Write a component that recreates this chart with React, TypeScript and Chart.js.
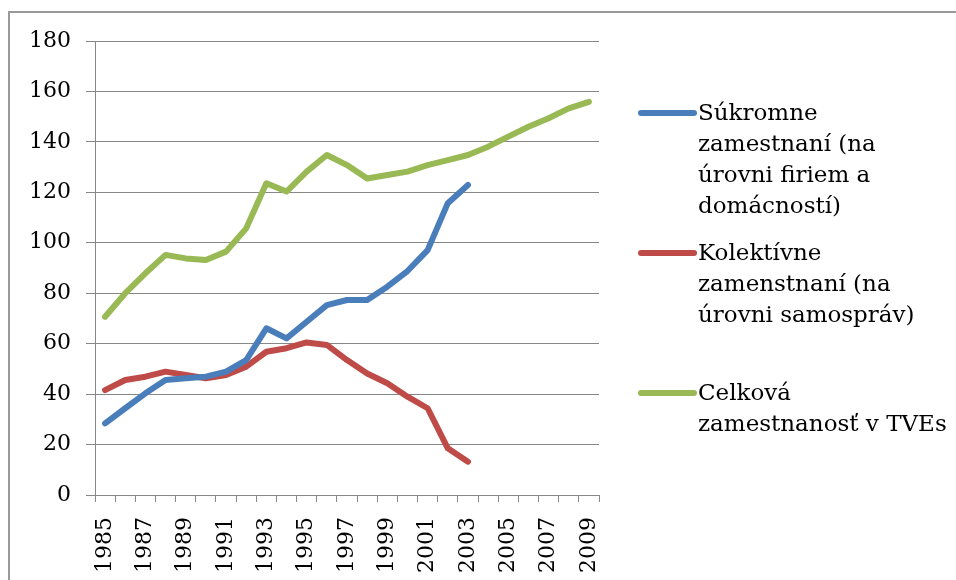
import React, { useEffect, useRef } from 'react';
import { Chart, registerables } from 'chart.js';

Chart.register(...registerables);

const years = ['1985','1986','1987','1988','1989','1990','1991','1992','1993','1994','1995','1996','1997','1998','1999','2000','2001','2002','2003','2004','2005','2006','2007','2008','2009'];

const sukromne = [28.4, 34.4, 40.3, 45.6, 46.3, 46.9, 48.9, 53.5, 66.1, 62.1, 68.7, 75.3, 77.3, 77.3, 82.6, 88.8, 97.1, 115.7, 122.9, null, null, null, null, null, null];
const kolektivne = [41.6, 45.6, 46.9, 48.9, 47.6, 46.3, 47.6, 50.9, 56.8, 58.2, 60.5, 59.5, 53.5, 48.2, 44.3, 39.0, 34.4, 18.5, 13.2, null, null, null, null, null, null];
const celkova = [70.7, 80.0, 87.9, 95.2, 93.8, 93.2, 96.5, 105.7, 123.6, 120.3, 128.2, 134.8, 130.8, 125.5, 126.9, 128.2, 130.8, 132.8, 134.8, 138.1, 142.1, 146.0, 149.4, 153.3, 155.9];

const seriesLabels = [
  ['Súkromne', 'zamestnaní (na', 'úrovni firiem a', 'domácností)'],
  ['Kolektívne', 'zamenstnaní (na', 'úrovni samospráv)'],
  ['Celková', 'zamestnanosť v TVEs'],
];
const seriesColors = ['#4A7EBB', '#BE4B48', '#98B954'];

const FONT = '"DejaVu Serif", "Liberation Serif", serif';
const GRID = '#878787';

const framePlugin = {
  id: 'frame',
  beforeDraw(chart: any) {
    const ctx = chart.ctx;
    ctx.save();
    ctx.fillStyle = '#ffffff';
    ctx.fillRect(0, 0, chart.width, chart.height);
    ctx.strokeStyle = '#999999';
    ctx.lineWidth = 2;
    ctx.beginPath();
    ctx.moveTo(9, chart.height);
    ctx.lineTo(9, 12);
    ctx.lineTo(chart.width, 12);
    ctx.stroke();
    ctx.restore();
  },
};

const legendPlugin = {
  id: 'multiLegend',
  afterDraw(chart: any) {
    const ctx = chart.ctx;
    const tops = [113, 253, 393];
    ctx.save();
    chart.data.datasets.forEach((ds: any, i: number) => {
      const y = tops[i];
      ctx.strokeStyle = ds.borderColor;
      ctx.lineWidth = 6;
      ctx.lineCap = 'round';
      ctx.beginPath();
      ctx.moveTo(641, y);
      ctx.lineTo(694, y);
      ctx.stroke();
      ctx.fillStyle = '#000000';
      ctx.font = '23px ' + FONT;
      ctx.textBaseline = 'middle';
      ctx.textAlign = 'left';
      (ds.legendLines as string[]).forEach((line, k) => {
        ctx.fillText(line, 698, y + 1 + k * 31);
      });
    });
    ctx.restore();
  },
};

export default function App() {
  const ref = useRef<HTMLCanvasElement>(null);
  useEffect(() => {
    if (!ref.current) return;
    const mk = (data: (number | null)[], i: number) => ({
      label: seriesLabels[i].join(' '),
      legendLines: seriesLabels[i],
      data,
      borderColor: seriesColors[i],
      backgroundColor: seriesColors[i],
      borderWidth: 6,
      pointRadius: 0,
      pointHoverRadius: 0,
      tension: 0,
      borderCapStyle: 'round',
      borderJoinStyle: 'round',
      spanGaps: false,
    });
    const chart = new Chart(ref.current, {
      type: 'line',
      data: {
        labels: years,
        datasets: [mk(sukromne, 0), mk(kolektivne, 1), mk(celkova, 2)] as any,
      },
      options: {
        responsive: false,
        animation: false,
        layout: { padding: { left: 0, right: 357, top: 41, bottom: 0 } },
        plugins: { legend: { display: false }, tooltip: { enabled: false } },
        scales: {
          x: {
            type: 'category',
            offset: true,
            grid: { display: true, offset: true, drawOnChartArea: false, color: GRID, tickLength: 7, lineWidth: 1 },
            border: { display: true, color: GRID, width: 1 },
            ticks: {
              autoSkip: false,
              maxRotation: 90,
              minRotation: 90,
              padding: 15,
              color: '#000000',
              font: { family: FONT, size: 22 },
              callback: (_v: any, idx: number) => (idx % 2 === 0 ? years[idx] : ''),
            },
            afterFit: (scale: any) => { scale.height = 85; },
          },
          y: {
            min: 0,
            max: 180,
            ticks: { stepSize: 20, padding: 15, color: '#000000', font: { family: FONT, size: 22 } },
            grid: { color: GRID, tickLength: 9, lineWidth: 1 },
            border: { display: true, color: GRID, width: 1 },
            afterFit: (scale: any) => { scale.width = 95; },
          },
        },
      },
      plugins: [framePlugin, legendPlugin],
    });
    return () => chart.destroy();
  }, []);
  return (
    <div style={{ position: 'fixed', left: 0, top: 0, width: 956, height: 580, background: '#fff' }}>
      <canvas ref={ref} width={956} height={580} style={{ display: 'block' }} />
    </div>
  );
}
